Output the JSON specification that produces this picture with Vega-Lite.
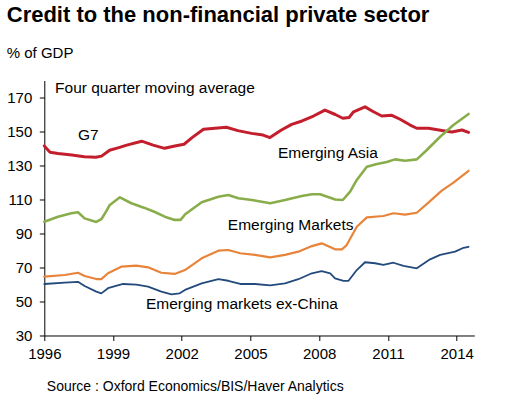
{
  "$schema": "https://vega.github.io/schema/vega-lite/v6.json",
  "width": 430,
  "height": 255,
  "autosize": "none",
  "padding": {"left": 44.3, "top": 80.5, "right": 32, "bottom": 60},
  "background": "white",
  "config": {"view": {"stroke": null}, "font": "Liberation Sans"},
  "title": {
    "text": "Credit to the non-financial private sector",
    "subtitle": "% of GDP",
    "anchor": "start",
    "frame": "bounds",
    "font": "Liberation Sans",
    "fontSize": 22,
    "fontWeight": "bold",
    "color": "black",
    "subtitleFont": "Liberation Sans",
    "subtitleFontSize": 15,
    "subtitleColor": "black",
    "subtitlePadding": 18.5,
    "offset": 19
  },
  "datasets": {
    "series": [
      {"series": "G7", "year": 1996.0, "value": 141.5},
      {"series": "G7", "year": 1996.25, "value": 137.8},
      {"series": "G7", "year": 1996.6, "value": 137.0},
      {"series": "G7", "year": 1997.2, "value": 136.2},
      {"series": "G7", "year": 1997.75, "value": 135.2},
      {"series": "G7", "year": 1998.25, "value": 134.8},
      {"series": "G7", "year": 1998.5, "value": 135.5},
      {"series": "G7", "year": 1998.85, "value": 139.0},
      {"series": "G7", "year": 1999.25, "value": 140.5},
      {"series": "G7", "year": 1999.6, "value": 142.0},
      {"series": "G7", "year": 2000.25, "value": 144.3},
      {"series": "G7", "year": 2000.75, "value": 142.0},
      {"series": "G7", "year": 2001.25, "value": 140.1},
      {"series": "G7", "year": 2001.7, "value": 141.5},
      {"series": "G7", "year": 2002.1, "value": 142.5},
      {"series": "G7", "year": 2002.45, "value": 146.4},
      {"series": "G7", "year": 2002.95, "value": 151.3},
      {"series": "G7", "year": 2003.45, "value": 151.9},
      {"series": "G7", "year": 2003.95, "value": 152.5},
      {"series": "G7", "year": 2004.45, "value": 150.5},
      {"series": "G7", "year": 2005.05, "value": 148.9},
      {"series": "G7", "year": 2005.55, "value": 147.9},
      {"series": "G7", "year": 2005.85, "value": 146.4},
      {"series": "G7", "year": 2006.35, "value": 150.9},
      {"series": "G7", "year": 2006.8, "value": 154.2},
      {"series": "G7", "year": 2007.25, "value": 156.2},
      {"series": "G7", "year": 2007.75, "value": 159.1},
      {"series": "G7", "year": 2008.25, "value": 162.6},
      {"series": "G7", "year": 2008.7, "value": 160.0},
      {"series": "G7", "year": 2009.03, "value": 157.8},
      {"series": "G7", "year": 2009.3, "value": 158.2},
      {"series": "G7", "year": 2009.5, "value": 161.6},
      {"series": "G7", "year": 2010.0, "value": 164.5},
      {"series": "G7", "year": 2010.37, "value": 161.6},
      {"series": "G7", "year": 2010.73, "value": 159.1},
      {"series": "G7", "year": 2011.17, "value": 159.5},
      {"series": "G7", "year": 2011.53, "value": 157.2},
      {"series": "G7", "year": 2011.97, "value": 153.8},
      {"series": "G7", "year": 2012.26, "value": 151.9},
      {"series": "G7", "year": 2012.77, "value": 151.9},
      {"series": "G7", "year": 2013.42, "value": 150.5},
      {"series": "G7", "year": 2013.79, "value": 149.7},
      {"series": "G7", "year": 2014.23, "value": 150.9},
      {"series": "G7", "year": 2014.52, "value": 149.5},

      {"series": "Emerging Asia", "year": 1996.0, "value": 96.9},
      {"series": "Emerging Asia", "year": 1996.6, "value": 99.9},
      {"series": "Emerging Asia", "year": 1997.18, "value": 101.9},
      {"series": "Emerging Asia", "year": 1997.47, "value": 102.5},
      {"series": "Emerging Asia", "year": 1997.76, "value": 98.9},
      {"series": "Emerging Asia", "year": 1998.27, "value": 96.8},
      {"series": "Emerging Asia", "year": 1998.49, "value": 98.4},
      {"series": "Emerging Asia", "year": 1998.7, "value": 103.0},
      {"series": "Emerging Asia", "year": 1998.86, "value": 106.8},
      {"series": "Emerging Asia", "year": 1999.3, "value": 111.3},
      {"series": "Emerging Asia", "year": 1999.8, "value": 107.8},
      {"series": "Emerging Asia", "year": 2000.35, "value": 105.2},
      {"series": "Emerging Asia", "year": 2000.8, "value": 102.8},
      {"series": "Emerging Asia", "year": 2001.26, "value": 99.9},
      {"series": "Emerging Asia", "year": 2001.69, "value": 98.0},
      {"series": "Emerging Asia", "year": 2001.95, "value": 98.0},
      {"series": "Emerging Asia", "year": 2002.15, "value": 101.3},
      {"series": "Emerging Asia", "year": 2002.87, "value": 108.4},
      {"series": "Emerging Asia", "year": 2003.6, "value": 111.6},
      {"series": "Emerging Asia", "year": 2004.03, "value": 112.6},
      {"series": "Emerging Asia", "year": 2004.47, "value": 110.7},
      {"series": "Emerging Asia", "year": 2005.06, "value": 109.7},
      {"series": "Emerging Asia", "year": 2005.86, "value": 107.8},
      {"series": "Emerging Asia", "year": 2006.51, "value": 109.7},
      {"series": "Emerging Asia", "year": 2007.24, "value": 112.1},
      {"series": "Emerging Asia", "year": 2007.68, "value": 113.1},
      {"series": "Emerging Asia", "year": 2008.04, "value": 113.1},
      {"series": "Emerging Asia", "year": 2008.7, "value": 110.0},
      {"series": "Emerging Asia", "year": 2009.03, "value": 109.7},
      {"series": "Emerging Asia", "year": 2009.35, "value": 114.6},
      {"series": "Emerging Asia", "year": 2009.64, "value": 121.5},
      {"series": "Emerging Asia", "year": 2010.08, "value": 129.3},
      {"series": "Emerging Asia", "year": 2010.52, "value": 130.9},
      {"series": "Emerging Asia", "year": 2010.95, "value": 132.1},
      {"series": "Emerging Asia", "year": 2011.31, "value": 133.6},
      {"series": "Emerging Asia", "year": 2011.75, "value": 132.8},
      {"series": "Emerging Asia", "year": 2012.26, "value": 133.6},
      {"series": "Emerging Asia", "year": 2012.7, "value": 139.1},
      {"series": "Emerging Asia", "year": 2013.28, "value": 146.9},
      {"series": "Emerging Asia", "year": 2013.86, "value": 153.8},
      {"series": "Emerging Asia", "year": 2014.52, "value": 160.3},

      {"series": "Emerging Markets", "year": 1996.0, "value": 64.6},
      {"series": "Emerging Markets", "year": 1996.89, "value": 65.6},
      {"series": "Emerging Markets", "year": 1997.47, "value": 66.9},
      {"series": "Emerging Markets", "year": 1997.76, "value": 65.0},
      {"series": "Emerging Markets", "year": 1998.27, "value": 63.2},
      {"series": "Emerging Markets", "year": 1998.49, "value": 63.2},
      {"series": "Emerging Markets", "year": 1998.78, "value": 66.6},
      {"series": "Emerging Markets", "year": 1999.36, "value": 70.5},
      {"series": "Emerging Markets", "year": 2000.02, "value": 71.1},
      {"series": "Emerging Markets", "year": 2000.53, "value": 70.1},
      {"series": "Emerging Markets", "year": 2001.11, "value": 66.9},
      {"series": "Emerging Markets", "year": 2001.69, "value": 66.2},
      {"series": "Emerging Markets", "year": 2002.14, "value": 68.5},
      {"series": "Emerging Markets", "year": 2002.87, "value": 75.4},
      {"series": "Emerging Markets", "year": 2003.6, "value": 79.9},
      {"series": "Emerging Markets", "year": 2004.03, "value": 80.3},
      {"series": "Emerging Markets", "year": 2004.55, "value": 78.4},
      {"series": "Emerging Markets", "year": 2005.2, "value": 77.4},
      {"series": "Emerging Markets", "year": 2005.86, "value": 76.0},
      {"series": "Emerging Markets", "year": 2006.51, "value": 77.4},
      {"series": "Emerging Markets", "year": 2007.09, "value": 79.3},
      {"series": "Emerging Markets", "year": 2007.68, "value": 82.6},
      {"series": "Emerging Markets", "year": 2008.11, "value": 84.2},
      {"series": "Emerging Markets", "year": 2008.69, "value": 80.7},
      {"series": "Emerging Markets", "year": 2008.99, "value": 80.7},
      {"series": "Emerging Markets", "year": 2009.2, "value": 83.2},
      {"series": "Emerging Markets", "year": 2009.64, "value": 94.0},
      {"series": "Emerging Markets", "year": 2010.08, "value": 99.5},
      {"series": "Emerging Markets", "year": 2010.8, "value": 100.3},
      {"series": "Emerging Markets", "year": 2011.24, "value": 101.9},
      {"series": "Emerging Markets", "year": 2011.75, "value": 101.1},
      {"series": "Emerging Markets", "year": 2012.26, "value": 102.2},
      {"series": "Emerging Markets", "year": 2012.84, "value": 109.0},
      {"series": "Emerging Markets", "year": 2013.35, "value": 115.2},
      {"series": "Emerging Markets", "year": 2013.86, "value": 119.9},
      {"series": "Emerging Markets", "year": 2014.52, "value": 126.9},

      {"series": "Emerging markets ex-China", "year": 1996.0, "value": 60.3},
      {"series": "Emerging markets ex-China", "year": 1996.89, "value": 61.1},
      {"series": "Emerging markets ex-China", "year": 1997.47, "value": 61.6},
      {"series": "Emerging markets ex-China", "year": 1997.76, "value": 59.1},
      {"series": "Emerging markets ex-China", "year": 1998.27, "value": 55.8},
      {"series": "Emerging markets ex-China", "year": 1998.49, "value": 54.8},
      {"series": "Emerging markets ex-China", "year": 1998.78, "value": 57.8},
      {"series": "Emerging markets ex-China", "year": 1999.44, "value": 60.3},
      {"series": "Emerging markets ex-China", "year": 2000.02, "value": 59.9},
      {"series": "Emerging markets ex-China", "year": 2000.53, "value": 58.7},
      {"series": "Emerging markets ex-China", "year": 2001.11, "value": 55.8},
      {"series": "Emerging markets ex-China", "year": 2001.55, "value": 54.2},
      {"series": "Emerging markets ex-China", "year": 2001.91, "value": 54.8},
      {"series": "Emerging markets ex-China", "year": 2002.14, "value": 56.8},
      {"series": "Emerging markets ex-China", "year": 2002.87, "value": 60.7},
      {"series": "Emerging markets ex-China", "year": 2003.6, "value": 63.1},
      {"series": "Emerging markets ex-China", "year": 2004.03, "value": 62.2},
      {"series": "Emerging markets ex-China", "year": 2004.55, "value": 60.3},
      {"series": "Emerging markets ex-China", "year": 2005.2, "value": 60.3},
      {"series": "Emerging markets ex-China", "year": 2005.86, "value": 59.5},
      {"series": "Emerging markets ex-China", "year": 2006.51, "value": 60.7},
      {"series": "Emerging markets ex-China", "year": 2007.09, "value": 63.1},
      {"series": "Emerging markets ex-China", "year": 2007.68, "value": 66.6},
      {"series": "Emerging markets ex-China", "year": 2008.11, "value": 67.9},
      {"series": "Emerging markets ex-China", "year": 2008.48, "value": 66.5},
      {"series": "Emerging markets ex-China", "year": 2008.69, "value": 63.6},
      {"series": "Emerging markets ex-China", "year": 2009.06, "value": 62.1},
      {"series": "Emerging markets ex-China", "year": 2009.28, "value": 62.2},
      {"series": "Emerging markets ex-China", "year": 2009.64, "value": 68.5},
      {"series": "Emerging markets ex-China", "year": 2010.0, "value": 73.1},
      {"series": "Emerging markets ex-China", "year": 2010.44, "value": 72.5},
      {"series": "Emerging markets ex-China", "year": 2010.8, "value": 71.5},
      {"series": "Emerging markets ex-China", "year": 2011.24, "value": 72.8},
      {"series": "Emerging markets ex-China", "year": 2011.68, "value": 70.9},
      {"series": "Emerging markets ex-China", "year": 2012.26, "value": 69.5},
      {"series": "Emerging markets ex-China", "year": 2012.84, "value": 74.8},
      {"series": "Emerging markets ex-China", "year": 2013.28, "value": 77.4},
      {"series": "Emerging markets ex-China", "year": 2013.93, "value": 79.3},
      {"series": "Emerging markets ex-China", "year": 2014.3, "value": 81.6},
      {"series": "Emerging markets ex-China", "year": 2014.52, "value": 82.2}
    ],
    "labels": [
      {"label": "G7", "year": 1997.47, "value": 145.0},
      {"label": "Emerging Asia", "year": 2006.2, "value": 134.3},
      {"label": "Emerging Markets", "year": 2004.01, "value": 92.1},
      {"label": "Emerging markets ex-China", "year": 2000.44, "value": 45.3},
      {"label": "Four quarter moving average", "year": 1996.47, "value": 172.6}
    ]
  },
  "encoding": {
    "x": {
      "field": "year", "type": "quantitative",
      "scale": {"domain": [1996, 2014.77], "nice": false, "zero": false},
      "axis": {
        "values": [1996, 1999, 2002, 2005, 2008, 2011, 2014],
        "format": "d",
        "grid": false,
        "domainColor": "black",
        "tickColor": "black",
        "tickSize": 5,
        "labelFont": "Liberation Sans",
        "labelFontSize": 15,
        "labelColor": "black",
        "labelPadding": 6,
        "labelFlush": false,
        "labelOverlap": false,
        "title": "Source : Oxford Economics/BIS/Haver Analytics",
        "titleFont": "Liberation Sans",
        "titleFontSize": 14,
        "titleFontWeight": "normal",
        "titleColor": "black",
        "titleAnchor": "start",
        "titleAlign": "left",
        "titlePadding": 18,
        "titleX": 2
      }
    },
    "y": {
      "field": "value", "type": "quantitative",
      "scale": {"domain": [30, 180], "nice": false, "zero": false},
      "axis": {
        "values": [30, 50, 70, 90, 110, 130, 150, 170],
        "format": "d",
        "grid": false,
        "domainColor": "black",
        "tickColor": "black",
        "tickSize": 5,
        "labelFont": "Liberation Sans",
        "labelFontSize": 15,
        "labelColor": "black",
        "labelPadding": 7.5,
        "labelOverlap": false,
        "labelFlush": false,
        "labelBound": false,
        "title": null
      }
    }
  },
  "layer": [
    {
      "data": {"name": "series"},
      "mark": {"type": "line", "strokeJoin": "round", "strokeCap": "round"},
      "encoding": {
        "color": {
          "field": "series", "type": "nominal",
          "scale": {
            "domain": ["G7", "Emerging Asia", "Emerging Markets", "Emerging markets ex-China"],
            "range": ["#c41e2d", "#8aad4c", "#e8843a", "#234a7c"]
          },
          "legend": null
        },
        "strokeWidth": {
          "field": "series", "type": "nominal",
          "scale": {
            "domain": ["G7", "Emerging Asia", "Emerging Markets", "Emerging markets ex-China"],
            "range": [3, 1.8, 1.8, 1.8]
          },
          "legend": null
        }
      }
    },
    {
      "data": {"name": "labels"},
      "mark": {"type": "text", "align": "left", "baseline": "alphabetic", "font": "Liberation Sans", "fontSize": 15.5, "color": "black"},
      "encoding": {
        "text": {"field": "label"}
      }
    }
  ]
}
